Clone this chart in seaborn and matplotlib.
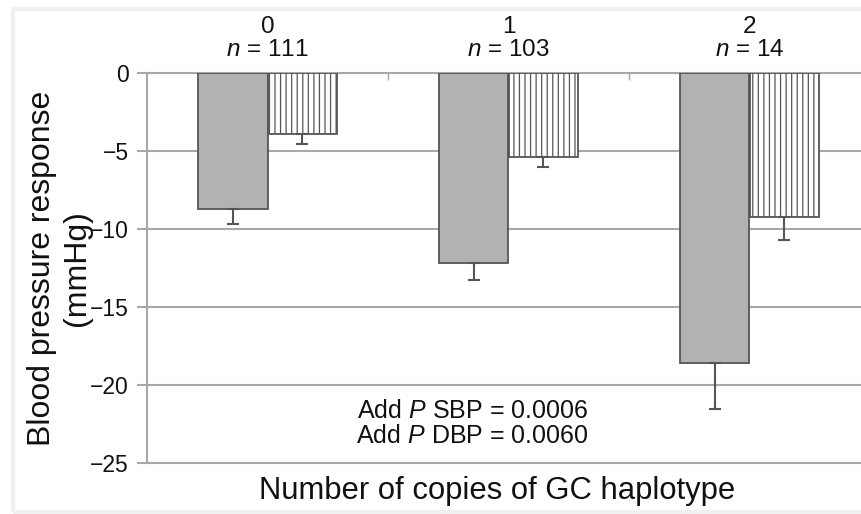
import numpy as np
import pandas as pd
import matplotlib
matplotlib.use("Agg")
import matplotlib.pyplot as plt
from matplotlib.patches import Rectangle
from matplotlib.ticker import FixedLocator
import seaborn as sns

# ---- data ----
groups = ["0", "1", "2"]
group_n = [111, 103, 14]
measures = ["SBP", "DBP"]
sbp_mean = [-8.7, -12.2, -18.6]
dbp_mean = [-3.9, -5.4, -9.2]
sbp_err = [1.0, 1.1, 2.95]
dbp_err = [0.65, 0.65, 1.5]
y_ticks = [0, -5, -10, -15, -20, -25]
annotation_lines = ["Add $P$ SBP = 0.0006", "Add $P$ DBP = 0.0060"]

df = pd.DataFrame({
    "group": groups * 2,
    "measure": ["SBP"] * 3 + ["DBP"] * 3,
    "value": sbp_mean + dbp_mean,
})

sns.set_theme(style="white")
plt.rcParams["font.family"] = ["Liberation Sans", "DejaVu Sans"]
plt.rcParams["mathtext.fontset"] = "custom"
plt.rcParams["mathtext.it"] = "Liberation Sans:italic"
plt.rcParams["mathtext.rm"] = "Liberation Sans"
plt.rcParams["hatch.linewidth"] = 0.9
plt.rcParams["hatch.color"] = "#8a8a8a"

fig = plt.figure(figsize=(8.61, 5.14), dpi=100)
fig.patch.set_facecolor("white")
W, H = 861, 514
ax = fig.add_axes([147 / W, (H - 463) / H, (W - 147) / W, (463 - 73) / H])

sns.barplot(data=df, x="group", y="value", hue="measure", order=groups,
            hue_order=measures, palette={"SBP": "#b2b2b2", "DBP": "white"},
            width=0.573, errorbar=None, edgecolor="#555555", linewidth=1.3,
            legend=False, ax=ax, zorder=3)

# hatch DBP bars and add one-sided error bars
bar_containers = list(ax.containers)[:2]
errs = [sbp_err, dbp_err]
for ci, cont in enumerate(bar_containers):
    xs = []
    ys = []
    for bar in cont.patches:
        xs.append(bar.get_x() + bar.get_width() / 2)
        ys.append(bar.get_y() + bar.get_height())
        if ci == 1:
            bar.set_hatch("|||")
    e = np.array(errs[ci])
    ax.errorbar(xs, ys, yerr=[e, np.zeros_like(e)], fmt="none",
                ecolor="#555555", elinewidth=1.5, capsize=4, capthick=1.5,
                zorder=4)

ax.set_xlim(-0.5, -0.5 + (W - 147) / 241)
ax.set_ylim(-25, 0)
ax.set_yticks(y_ticks)
ax.set_yticklabels([f"{t}".replace("-", "\u2212") for t in y_ticks])

ax.grid(axis="y", color="#a8a8a8", linewidth=1.5, zorder=0)
ax.grid(axis="x", visible=False)
ax.set_axisbelow(True)

for s in ["right"]:
    ax.spines[s].set_visible(False)
for s in ["left", "top", "bottom"]:
    ax.spines[s].set_color("#a8a8a8")
    ax.spines[s].set_linewidth(1.5)

# top categorical axis
ax.xaxis.tick_top()
ax.set_xticks(range(len(groups)))
ax.set_xticklabels([f"{g}\n$n$ = {n}" for g, n in zip(groups, group_n)])
ax.xaxis.set_minor_locator(FixedLocator([0.5, 1.5]))
ax.tick_params(axis="x", which="major", length=0, pad=9, labelsize=17.5,
               labelcolor="#111111")
ax.tick_params(axis="x", which="minor", top=True, direction="in", length=5,
               width=1.0, color="#a8a8a8")
for lab in ax.get_xticklabels():
    lab.set_linespacing(1.02)
ax.tick_params(axis="y", which="major", left=True, length=7, width=1.5,
               color="#a8a8a8", pad=6, labelsize=16.5, labelcolor="#111111")

ax.set_xlabel("Number of copies of GC haplotype", fontsize=22.3, color="#111111")
ax.xaxis.set_label_position("bottom")
ax.xaxis.set_label_coords(0.49, -0.033)
ax.set_ylabel("Blood pressure response\n(mmHg)", fontsize=23,
              color="#111111", linespacing=1.2)
ax.yaxis.set_label_coords(-0.077, 0.5)

ax.text(0.85, -22.45, "\n".join(annotation_lines), ha="center", va="center",
        fontsize=18, color="#111111", linespacing=1.05)

# light frame around the figure
fig.patches.append(Rectangle((13 / W, 2 / H), 1.2, 503 / H,
                             transform=fig.transFigure, fill=False,
                             edgecolor="#f0f0f0", linewidth=3, zorder=-1))

fig.savefig("out.png", dpi=100)
